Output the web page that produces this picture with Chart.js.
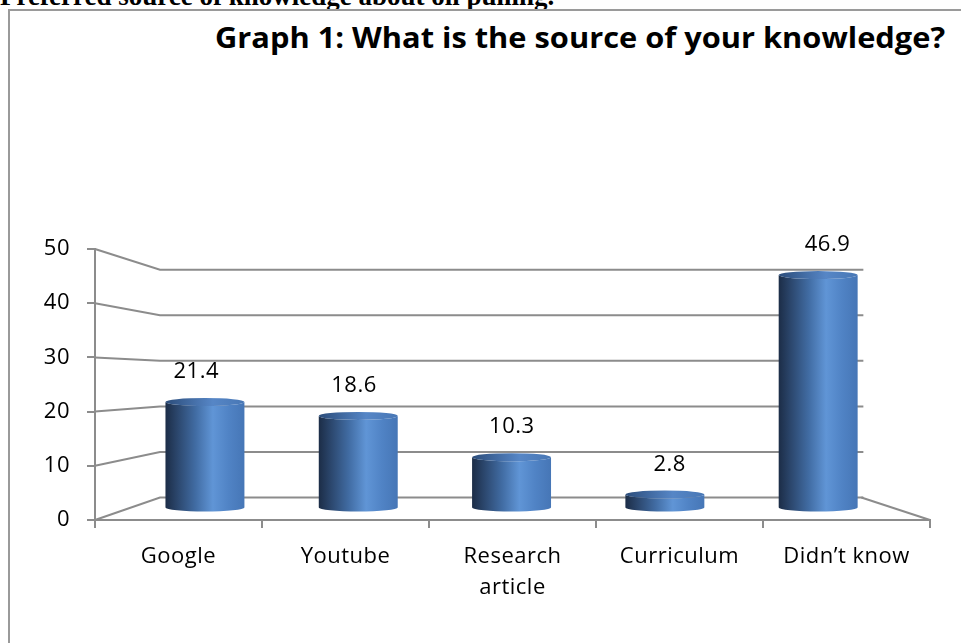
<!DOCTYPE html>
<html>
<head>
<meta charset="utf-8">
<script src="https://cdn.jsdelivr.net/npm/chart.js@4.4.1/dist/chart.umd.min.js"></script>
<style>
  body { margin: 0; background: #fff; width: 961px; height: 643px; overflow: hidden; position: relative; }
  #heading { position: absolute; left: 0; top: -17px; font: bold 27px/27px "Liberation Serif"; white-space: nowrap; }
  #frame { position: absolute; left: 8px; top: 9px; width: 1000px; height: 700px; border-left: 2px solid #9a9a9a; border-top: 2px solid #9a9a9a; }
  #title { position: absolute; left: 215px; top: 18px; font: bold 28px "Open Sans"; white-space: nowrap; transform: scaleX(1.1); transform-origin: left top; }
  canvas { position: absolute; left: 0; top: 0; }
</style>
</head>
<body>
<div id="heading">Preferred source of knowledge about oil pulling.</div>
<div id="frame"></div>
<div id="title">Graph 1: What is the source of your knowledge?</div>
<canvas id="myChart" width="961" height="643"></canvas>
<script>
// kategorier och värden
const categories = ["Google", "Youtube", ["Research", "article"], "Curriculum", "Didn’t know"];
const values = [21.4, 18.6, 10.3, 2.8, 46.9];
const yTicks = [0, 10, 20, 30, 40, 50];

const gridColor = "#8c8c8c";

// perspektiv: bakväggen krymper mot en punkt
function vanish(a) {
  return { vx: a.left + 406, vy: a.top + 130 };
}
function toDepth(v, k, px, py) {
  return [v.vx + k * (px - v.vx), v.vy + k * (py - v.vy)];
}

const depthPlugin = {
  id: "depth",
  beforeDraw(chart) {
    chart.ctx.letterSpacing = "0.5px";
  },
  beforeDatasetsDraw(chart) {
    const { ctx, chartArea: a, scales: { y } } = chart;
    const v = vanish(a);
    ctx.save();
    ctx.strokeStyle = gridColor;
    ctx.lineWidth = 2;
    yTicks.forEach((t) => {
      const fy = y.getPixelForValue(t);
      const [bx, by] = toDepth(v, 0.84, a.left, fy);
      const [ex] = toDepth(v, 0.84, a.right, fy);
      ctx.beginPath();
      ctx.moveTo(a.left, fy);
      ctx.lineTo(bx, by);
      ctx.lineTo(ex + 2, by);
      ctx.stroke();
    });
    const [rx, ry] = toDepth(v, 0.84, a.right, a.bottom);
    ctx.beginPath();
    ctx.moveTo(rx, ry);
    ctx.lineTo(a.right, a.bottom);
    ctx.stroke();
    ctx.restore();
  },
  afterDatasetsDraw(chart) {
    const { ctx, chartArea: a } = chart;
    const v = vanish(a);
    const meta = chart.getDatasetMeta(0);
    ctx.save();
    meta.data.forEach((bar, i) => {
      const k = 0.918;
      const [cx, top] = toDepth(v, k, bar.x, bar.y);
      const [, base] = toDepth(v, k, bar.x, bar.base);
      const rx = k * bar.width / 2;
      const ry = 4;

      const g = ctx.createLinearGradient(cx - rx, 0, cx + rx, 0);
      g.addColorStop(0, "#1c2d47");
      g.addColorStop(0.15, "#2b466c");
      g.addColorStop(0.38, "#416ca3");
      g.addColorStop(0.6, "#6095d6");
      g.addColorStop(0.8, "#5083c5");
      g.addColorStop(1, "#4676b6");
      ctx.fillStyle = g;
      ctx.beginPath();
      ctx.moveTo(cx - rx, top);
      ctx.lineTo(cx - rx, base);
      ctx.ellipse(cx, base, rx, ry, 0, Math.PI, 0, true);
      ctx.lineTo(cx + rx, top);
      ctx.ellipse(cx, top, rx, ry, 0, 0, Math.PI, false);
      ctx.closePath();
      ctx.fill();

      const gt = ctx.createLinearGradient(cx - rx, 0, cx + rx, 0);
      gt.addColorStop(0, "#2c4d7b");
      gt.addColorStop(0.6, "#5686c6");
      gt.addColorStop(1, "#4877b5");
      ctx.fillStyle = gt;
      ctx.beginPath();
      ctx.ellipse(cx, top, rx, ry, 0, 0, Math.PI * 2);
      ctx.fill();

      // värdeetikett
      const [lx] = toDepth(v, 0.945, bar.x, bar.y);
      ctx.fillStyle = "#000";
      ctx.font = "22px 'Open Sans'";
      ctx.textAlign = "center";
      ctx.textBaseline = "middle";
      ctx.fillText(values[i].toFixed(1), lx, top - 30);
    });
    ctx.restore();
  }
};

new Chart(document.getElementById("myChart"), {
  type: "bar",
  data: {
    labels: categories,
    datasets: [{
      data: values,
      backgroundColor: "rgba(0,0,0,0)",
      barPercentage: 0.515,
      categoryPercentage: 1
    }]
  },
  options: {
    responsive: false,
    animation: false,
    layout: { padding: { top: 249, right: 31, left: 0, bottom: 0 } },
    plugins: { legend: { display: false }, tooltip: { enabled: false } },
    scales: {
      x: {
        offset: true,
        grid: { offset: true, drawOnChartArea: false, tickLength: 8, color: gridColor, lineWidth: 2 },
        border: { color: gridColor, width: 2 },
        ticks: { color: "#000", font: { family: "Open Sans", size: 22, lineHeight: 1.42 }, padding: 13, maxRotation: 0, autoSkip: false },
        afterFit: (s) => { s.height = 123; }
      },
      y: {
        min: 0,
        max: 50,
        ticks: { stepSize: 10, color: "#000", font: { family: "Open Sans", size: 22 }, padding: 17 },
        grid: { drawOnChartArea: false, tickLength: 8, color: gridColor, lineWidth: 2 },
        border: { color: gridColor, width: 2 },
        afterFit: (s) => { s.width = 95; }
      }
    }
  },
  plugins: [depthPlugin]
});
</script>
</body>
</html>
